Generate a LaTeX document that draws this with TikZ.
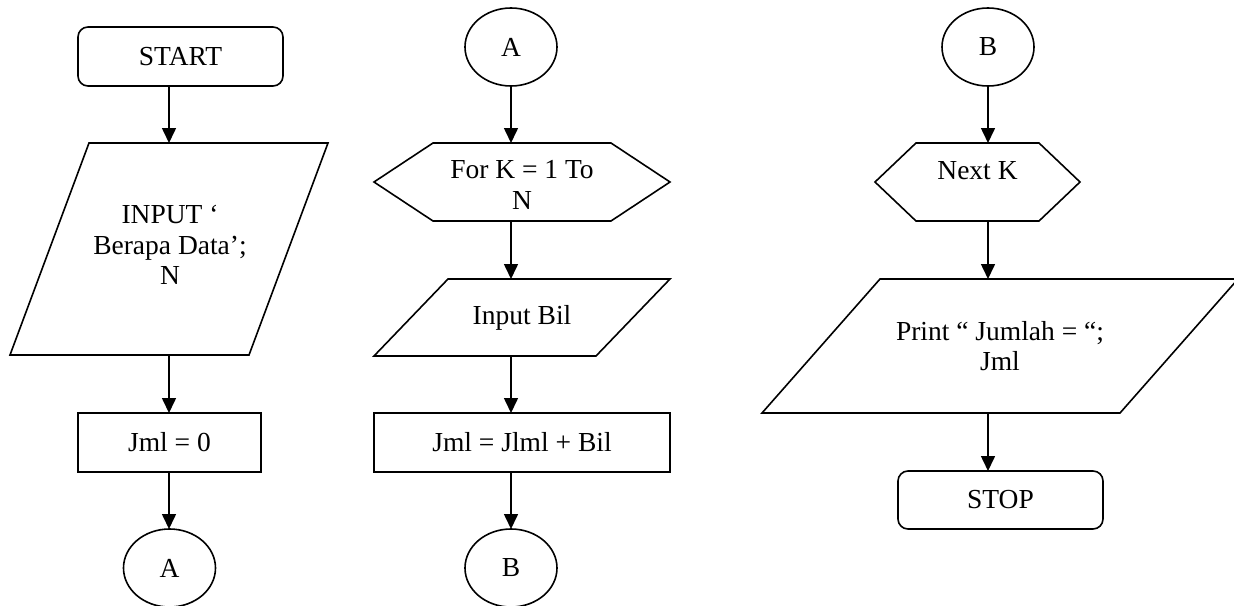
\documentclass[tikz,border=0pt]{standalone}
\usepackage{fontspec}
\setmainfont{Liberation Serif}
\usetikzlibrary{arrows.meta,shapes.geometric}
\begin{document}
\begin{tikzpicture}[x=1pt,y=-1pt,
  font=\fontsize{27.5}{30.5}\selectfont,
  every node/.style={inner sep=0pt,outer sep=0pt,align=center},
  frame/.style={draw=none},
  outline/.style={draw=black,line width=1.6pt,line join=miter},
  termbox/.style={draw=black,line width=1.6pt,rounded corners=10pt},
  procbox/.style={draw=black,line width=1.6pt},
  conn/.style={draw=black,line width=1.6pt,ellipse},
  flow/.style={line width=1.6pt,-{Triangle[width=14pt,length=15pt]}}
]
\useasboundingbox (0,0) rectangle (1234,605);

% ---------- column 1 ----------
\node[termbox,minimum width=205pt,minimum height=59pt] (start) at (180.5,56.5) {START};
\node[frame,minimum width=318pt,minimum height=212pt] (in1) at (169,249) {};
\draw[outline] ([xshift=79pt]in1.north west) -- (in1.north east) -- ([xshift=-79pt]in1.south east) -- (in1.south west) -- cycle;
\node (in1t) at ([xshift=1pt,yshift=4pt]in1.center) {INPUT ‘\\ Berapa Data’;\\N};
\node[procbox,minimum width=183pt,minimum height=59pt] (jml0) at (169.5,442.5) {Jml = 0};
\node[conn,minimum width=92pt,minimum height=78pt] (ca1) at (169.5,568) {A};

\draw[flow] (in1.north |- start.south) -- (in1.north);
\draw[flow] (in1.south) -- (in1.south |- jml0.north);
\draw[flow] (in1.south |- jml0.south) -- (in1.south |- ca1.north);

% ---------- column 2 ----------
\node[conn,minimum width=92pt,minimum height=78pt] (ca2) at (511,47) {A};
\node[frame,minimum width=296pt,minimum height=78pt] (for) at (522,182) {};
\draw[outline] ([xshift=59pt]for.north west) -- ([xshift=-59pt]for.north east) -- (for.east) -- ([xshift=-59pt]for.south east) -- ([xshift=59pt]for.south west) -- (for.west) -- cycle;
\node (fort) at ([yshift=-3pt]for.center) {For K = 1 To\\N};
\node[frame,minimum width=296pt,minimum height=77pt] (in2) at (522,317.5) {Input Bil};
\draw[outline] ([xshift=74pt]in2.north west) -- (in2.north east) -- ([xshift=-74pt]in2.south east) -- (in2.south west) -- cycle;
\node[procbox,minimum width=296pt,minimum height=59pt] (jsum) at (522,442.5) {Jml = Jlml + Bil};
\node[conn,minimum width=92pt,minimum height=78pt] (cb1) at (511,568) {B};

\draw[flow] (ca2.south) -- (ca2.south |- for.north);
\draw[flow] (ca2.south |- for.south) -- (ca2.south |- in2.north);
\draw[flow] (ca2.south |- in2.south) -- (ca2.south |- jsum.north);
\draw[flow] (ca2.south |- jsum.south) -- (cb1.north);

% ---------- column 3 ----------
\node[conn,minimum width=92pt,minimum height=78pt] (cb2) at (988,47) {B};
\node[frame,minimum width=205pt,minimum height=78pt] (nk) at (977.5,182) {};
\draw[outline] ([xshift=41pt]nk.north west) -- ([xshift=-41pt]nk.north east) -- (nk.east) -- ([xshift=-41pt]nk.south east) -- ([xshift=41pt]nk.south west) -- (nk.west) -- cycle;
\node (nkt) at ([yshift=11pt]nk.center) {Next K};
\node[frame,minimum width=476pt,minimum height=134pt] (out) at (1000,346) {Print “ Jumlah = “;\\Jml};
\draw[outline] ([xshift=118pt]out.north west) -- (out.north east) -- ([xshift=-118pt]out.south east) -- (out.south west) -- cycle;
\node[termbox,minimum width=205pt,minimum height=58pt] (stop) at (1000.5,500) {STOP};

\draw[flow] (cb2.south) -- (cb2.south |- nk.north);
\draw[flow] (cb2.south |- nk.south) -- (cb2.south |- out.north);
\draw[flow] (cb2.south |- out.south) -- (cb2.south |- stop.north);
\end{tikzpicture}
\end{document}
